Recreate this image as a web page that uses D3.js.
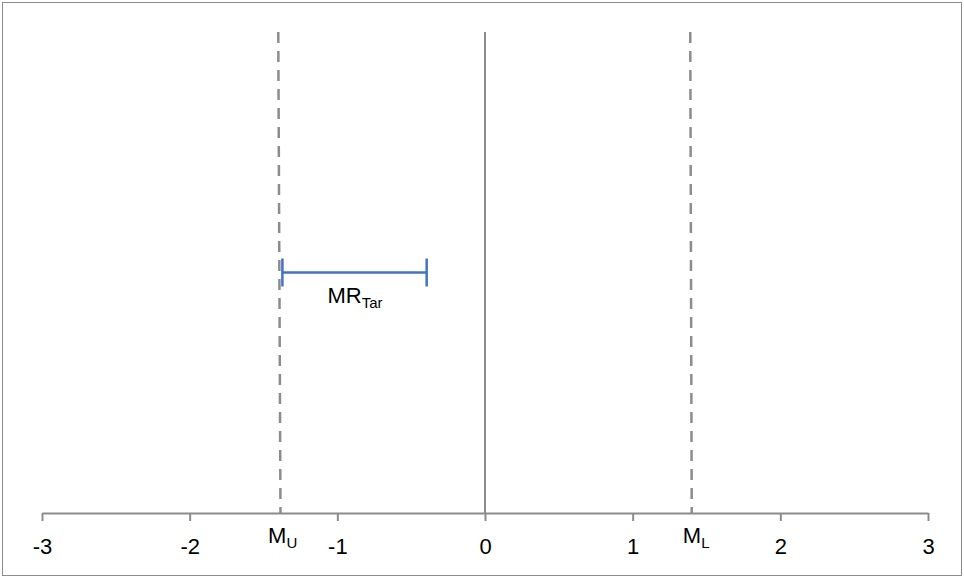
<!DOCTYPE html>
<html>
<head>
<meta charset="utf-8">
<script src="https://cdn.jsdelivr.net/npm/d3@7"></script>
<style>
  body { margin: 0; background: #fff; }
  text { font-family: "Liberation Sans", Arial, sans-serif; fill: #000; }
</style>
</head>
<body>
<div id="chart"></div>
<script>
// data
const xTicks = [-3, -2, -1, 0, 1, 2, 3];
const zeroLine = [{x: 0, y: 0}, {x: 0, y: 1}];
const muLine = [{x: -1.40, y: 1}, {x: -1.385, y: 0}];
const mlLine = [{x: 1.39, y: 1}, {x: 1.40, y: 0}];
const mrTar = {lo: -1.372, hi: -0.395, y: 0.5};
const labels = [
  {main: "M", sub: "U", x: -1.37, y: 0},
  {main: "M", sub: "L", x: 1.43, y: 0},
  {main: "MR", sub: "Tar", x: -0.88, y: 0.5}
];

const W = 964, H = 578;
const svg = d3.select("#chart").append("svg")
  .attr("width", W).attr("height", H);

// chart frame
svg.append("rect")
  .attr("x", 2.5).attr("y", 2.5)
  .attr("width", W - 5).attr("height", H - 5)
  .attr("fill", "#fff").attr("stroke", "#8c8c8c").attr("stroke-width", 1);

let x = d3.scaleLinear().domain([-3, 3]).range([42, 928]);
let y = d3.scaleLinear().domain([0, 1]).range([513, 32]);

let line = d3.line().x(d => x(d.x)).y(d => y(d.y));

// x axis
const gx = svg.append("g")
  .attr("transform", `translate(0,${y(0)})`)
  .call(d3.axisBottom(x).tickValues(xTicks).tickSize(8).tickSizeOuter(0).tickFormat(d3.format("d")));
gx.select(".domain").attr("stroke", "#8c8c8c").attr("stroke-width", 2);
gx.selectAll(".tick line").attr("stroke", "#8c8c8c").attr("stroke-width", 2);
gx.selectAll(".tick text")
  .attr("y", 41).attr("dy", null)
  .style("font-family", "'Liberation Sans', Arial, sans-serif")
  .attr("font-size", 22).attr("fill", "#000")
  .text(d => d < 0 ? "-" + Math.abs(d) : d);

// zero line
svg.append("path").datum(zeroLine)
  .attr("d", line).attr("fill", "none")
  .attr("stroke", "#8c8c8c").attr("stroke-width", 2);

// dashed lines
[muLine, mlLine].forEach(l => {
  svg.append("path").datum(l)
    .attr("d", line).attr("fill", "none")
    .attr("stroke", "#8c8c8c").attr("stroke-width", 2.5)
    .attr("stroke-dasharray", "11,8");
});

// MR_Tar range bar
const bar = svg.append("g").attr("stroke", "#4472c4").attr("stroke-width", 2.5);
bar.append("line")
  .attr("x1", x(mrTar.lo)).attr("x2", x(mrTar.hi))
  .attr("y1", y(mrTar.y)).attr("y2", y(mrTar.y));
[mrTar.lo, mrTar.hi].forEach(v => {
  bar.append("line")
    .attr("x1", x(v)).attr("x2", x(v))
    .attr("y1", y(mrTar.y) - 14).attr("y2", y(mrTar.y) + 14);
});

// labels
labels.forEach(l => {
  const t = svg.append("text")
    .attr("x", x(l.x)).attr("y", y(l.y) + (l.y === 0 ? 30 : 30))
    .attr("text-anchor", "middle").attr("font-size", 22);
  t.append("tspan").text(l.main);
  t.append("tspan").attr("font-size", 15).attr("dy", 5).text(l.sub);
});
</script>
</body>
</html>
